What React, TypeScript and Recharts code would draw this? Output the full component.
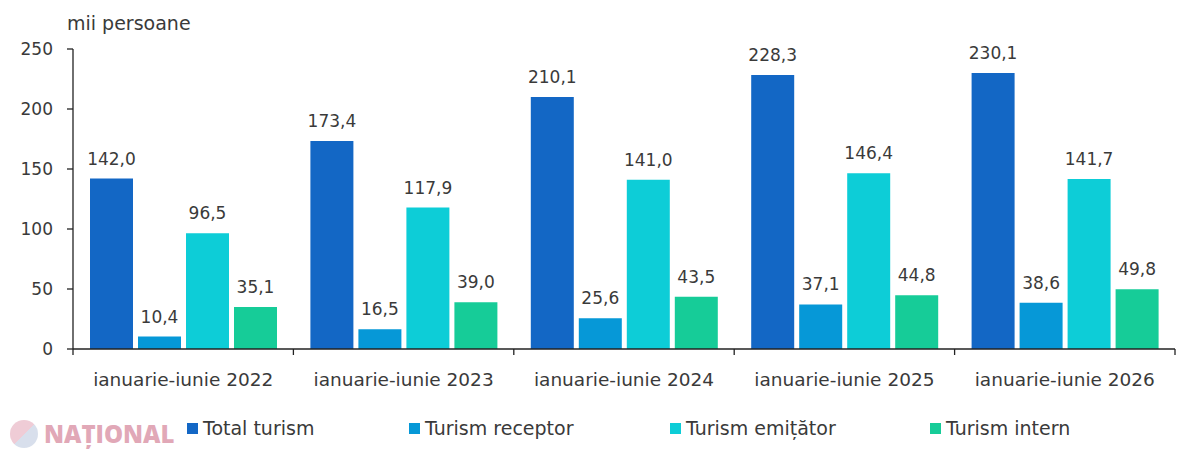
import React from "react";
import { BarChart, Bar, XAxis, YAxis, LabelList } from "recharts";

const categories = [
  "ianuarie-iunie 2022",
  "ianuarie-iunie 2023",
  "ianuarie-iunie 2024",
  "ianuarie-iunie 2025",
  "ianuarie-iunie 2026",
];
const totalTurism = [142.0, 173.4, 210.1, 228.3, 230.1];
const turismReceptor = [10.4, 16.5, 25.6, 37.1, 38.6];
const turismEmitator = [96.5, 117.9, 141.0, 146.4, 141.7];
const turismIntern = [35.1, 39.0, 43.5, 44.8, 49.8];
const yTicks = [0, 50, 100, 150, 200, 250];

const seriesNames = ["Total turism", "Turism receptor", "Turism emițător", "Turism intern"];
const seriesKeys = ["total", "receptor", "emitator", "intern"];
const colors = ["#1367C5", "#0698D7", "#0DCDD7", "#16CC98"];

const data = categories.map((c, i) => ({
  name: c,
  total: totalTurism[i],
  receptor: turismReceptor[i],
  emitator: turismEmitator[i],
  intern: turismIntern[i],
}));

const FONT = "'DejaVu Sans', sans-serif";
const TEXT = "#3a3a3a";
const W = 1200;
const H = 457;
const LEFT = 73;
const RIGHT = 25;
const BAND = (W - LEFT - RIGHT) / categories.length;

const fmt = (v: any) => Number(v).toFixed(1).replace(".", ",");

const XTick = (props: any) => {
  const { x, y, payload, index } = props;
  const half = BAND / 2;
  return (
    <g>
      <line x1={x - half} y1={y - 8} x2={x - half} y2={y - 2} stroke="#222" strokeWidth={1.3} />
      {index === categories.length - 1 && (
        <line x1={x + half} y1={y - 8} x2={x + half} y2={y - 2} stroke="#222" strokeWidth={1.3} />
      )}
      <text
        x={x}
        y={y + 29}
        textAnchor="middle"
        fill={TEXT}
        fontSize={18.5}
        fontFamily={FONT}
      >
        {payload.value}
      </text>
    </g>
  );
};

const legendLeft = [187, 409, 670, 930];

export default function App() {
  return (
    <div
      style={{
        position: "absolute",
        left: 0,
        top: 0,
        width: W,
        height: H,
        background: "#fff",
        fontFamily: FONT,
        overflow: "hidden",
      }}
    >
      <div
        style={{
          position: "absolute",
          left: 67,
          top: 12,
          fontSize: 19,
          lineHeight: "22px",
          color: TEXT,
          fontFamily: FONT,
        }}
      >
        mii persoane
      </div>
      <BarChart
        width={W}
        height={H}
        data={data}
        margin={{ top: 49, right: RIGHT, bottom: 78, left: 0 }}
        barCategoryGap={17}
        barGap={5}
      >
        <YAxis
          width={LEFT}
          domain={[0, 250]}
          ticks={yTicks}
          axisLine={{ stroke: "#222", strokeWidth: 1.3 }}
          tickLine={{ stroke: "#222", strokeWidth: 1.3 }}
          tickSize={6}
          tickMargin={14}
          tick={{ fill: TEXT, fontSize: 17, fontFamily: FONT }}
          interval={0}
        />
        <XAxis
          dataKey="name"
          height={30}
          axisLine={{ stroke: "#222", strokeWidth: 1.3 }}
          tickLine={false}
          tick={<XTick />}
          interval={0}
        />
        {seriesKeys.map((k, i) => (
          <Bar key={k} dataKey={k} fill={colors[i]} isAnimationActive={false}>
            <LabelList
              dataKey={k}
              position="top"
              offset={14}
              formatter={fmt}
              fill={TEXT}
              fontSize={17}
              fontFamily={FONT}
            />
          </Bar>
        ))}
      </BarChart>
      {seriesNames.map((n, i) => (
        <div
          key={n}
          style={{
            position: "absolute",
            left: legendLeft[i],
            top: 417,
            height: 22,
            display: "flex",
            alignItems: "center",
            fontSize: 19,
            lineHeight: "22px",
            color: TEXT,
            fontFamily: FONT,
            whiteSpace: "nowrap",
          }}
        >
          <span
            style={{
              display: "inline-block",
              width: 11,
              height: 11,
              background: colors[i],
              marginRight: 5,
            }}
          />
          {n}
        </div>
      ))}
      <div
        style={{
          position: "absolute",
          left: 10,
          top: 417,
          display: "flex",
          alignItems: "center",
          opacity: 0.55,
        }}
      >
        <span
          style={{
            display: "inline-block",
            width: 28,
            height: 28,
            borderRadius: 14,
            background: "linear-gradient(135deg, #e2a3b5 50%, #b9c6dd 50%)",
            marginRight: 6,
          }}
        />
        <span
          style={{
            fontSize: 24,
            fontWeight: 900,
            color: "#c9627e",
            fontFamily: "'Open Sans', sans-serif",
          }}
        >
          NAȚIONAL
        </span>
      </div>
    </div>
  );
}
